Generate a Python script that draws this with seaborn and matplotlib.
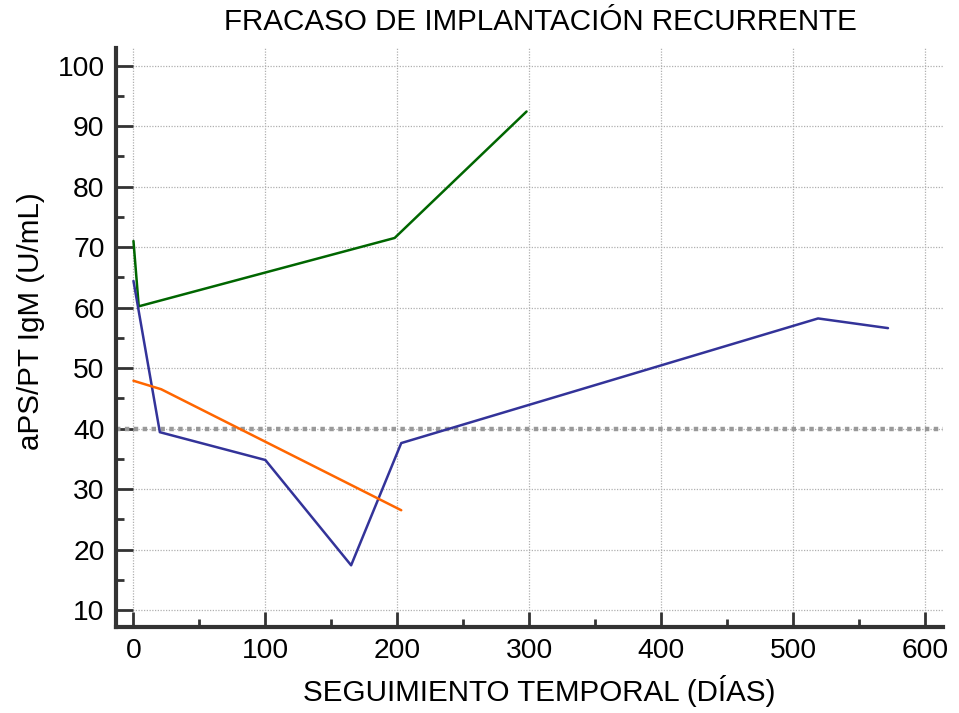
import matplotlib
matplotlib.use("Agg")
import matplotlib.pyplot as plt
import seaborn as sns
import pandas as pd
from matplotlib.ticker import MultipleLocator

# Data
green_x = [0, 4, 198, 298]
green_y = [71.0, 60.2, 71.5, 92.4]
blue_x = [0, 20, 100, 165, 203, 519, 572]
blue_y = [64.4, 39.4, 34.8, 17.4, 37.6, 58.2, 56.6]
orange_x = [0, 21, 203]
orange_y = [47.9, 46.5, 26.5]
threshold = 40

title = "FRACASO DE IMPLANTACIÓN RECURRENTE"
xlabel = "SEGUIMIENTO TEMPORAL (DÍAS)"
ylabel = "aPS/PT IgM (U/mL)"

sns.set_style("white")
plt.rcParams['font.family'] = ['Liberation Sans', 'DejaVu Sans']
plt.rcParams['text.color'] = 'black'
plt.rcParams['axes.labelcolor'] = 'black'
plt.rcParams['xtick.color'] = 'black'
plt.rcParams['ytick.color'] = 'black'

fig = plt.figure(figsize=(9.59, 7.13), dpi=100)
ax = fig.add_axes([0.1206, 0.1206, 0.9833 - 0.1206, 0.9327 - 0.1206])

df = pd.concat([
    pd.DataFrame({"x": green_x, "y": green_y, "s": "g"}),
    pd.DataFrame({"x": blue_x, "y": blue_y, "s": "b"}),
    pd.DataFrame({"x": orange_x, "y": orange_y, "s": "o"}),
])
sns.lineplot(data=df, x="x", y="y", hue="s", sort=False, estimator=None,
             palette={"g": "#006600", "b": "#333399", "o": "#ff6600"},
             linewidth=1.8, legend=False, ax=ax, zorder=3)

ax.axhline(threshold, color="#999999", linestyle=(0, (1, 1)), linewidth=3.2, zorder=2)

ax.set_xlim(-13.5, 613.7)
ax.set_ylim(7.2, 102.9)
ax.xaxis.set_major_locator(MultipleLocator(100))
ax.xaxis.set_minor_locator(MultipleLocator(50))
ax.yaxis.set_major_locator(MultipleLocator(10))
ax.yaxis.set_minor_locator(MultipleLocator(5))

ax.grid(True, which="major", color="#b0b0b0", linestyle=(0, (1, 1.2)), linewidth=0.9)
ax.set_axisbelow(True)

for s in ["top", "right"]:
    ax.spines[s].set_visible(False)
for s in ["left", "bottom"]:
    ax.spines[s].set_linewidth(3)
    ax.spines[s].set_color("#333333")

ax.tick_params(which="major", direction="in", length=11, width=2, color="#333333",
               labelcolor="black", labelsize=20.3, pad=8, left=True, bottom=True)
ax.tick_params(which="minor", direction="in", length=6, width=2, color="#333333",
               left=True, bottom=True)
ax.tick_params(axis="y", which="major", length=12)

ax.set_xlabel(xlabel, fontsize=21.3, labelpad=8, color="black")
ax.set_ylabel(ylabel, fontsize=21.3, labelpad=9, color="black")
ax.xaxis.label.set_x(0.5117)
ax.yaxis.label.set_y(0.5285)
fig.text(540 / 959, 1 - 22 / 713, title, fontsize=21.3, ha="center", va="center",
         color="black")

fig.savefig("out.png", dpi=100)
